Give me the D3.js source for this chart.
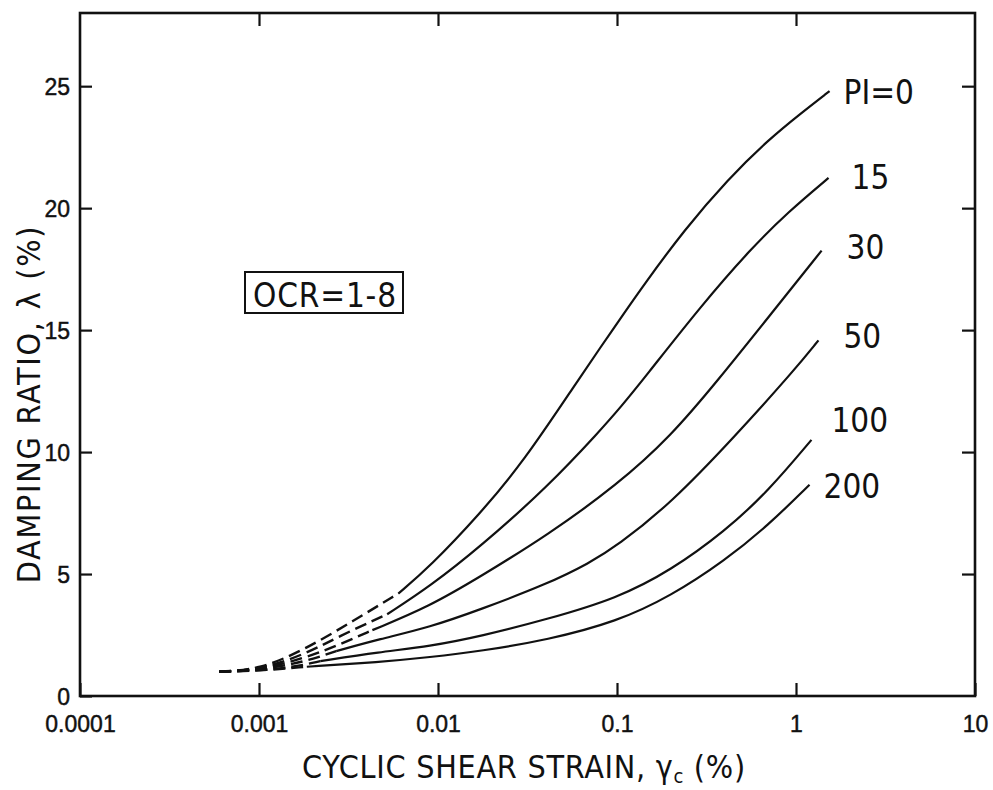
<!DOCTYPE html>
<html>
<head>
<meta charset="utf-8">
<script src="https://cdn.jsdelivr.net/npm/d3@7"></script>
<style>
  html, body { margin: 0; padding: 0; background: #fff; }
  svg { display: block; }
  .tick text { font-family: "Liberation Sans", Arial, sans-serif; font-size: 23px; fill: #111; stroke: #111; stroke-width: 0.45px; }
  .lbl { font-family: "Liberation Sans Narrow", "DejaVu Sans Condensed", sans-serif; fill: #111; }
</style>
</head>
<body>
<svg id="chart" width="993" height="790"></svg>
<script>
// ---------- data ----------
const xTickValues = [0.0001, 0.001, 0.01, 0.1, 1, 10];
const xTickLabels = ["0.0001", "0.001", "0.01", "0.1", "1", "10"];
const yTickValues = [0, 5, 10, 15, 20, 25];
const yTickLabels = ["0", "5", "10", "15", "20", "25"];

const seriesNames = ["PI=0", "15", "30", "50", "100", "200"];

const strainPI0   = [0.0006, 0.001, 0.0018, 0.0034, 0.006, 0.009, 0.0173, 0.03, 0.06, 0.081, 0.105, 0.141, 0.237, 0.418, 0.70, 1.07, 1.54];
const dampingPI0  = [1.0, 1.08, 1.9, 3.1, 4.2, 5.3, 7.5, 9.6, 12.9, 14.3, 15.5, 16.85, 19.1, 21.2, 22.8, 23.9, 24.8];

const strainPI15  = [0.0006, 0.001, 0.0018, 0.0028, 0.0052, 0.009, 0.0173, 0.041, 0.081, 0.105, 0.141, 0.295, 0.562, 0.906, 1.52];
const dampingPI15 = [1.0, 1.07, 1.7, 2.45, 3.35, 4.49, 6.13, 8.58, 10.9, 11.85, 13.0, 16.0, 18.35, 19.85, 21.24];

const strainPI30  = [0.0006, 0.001, 0.0018, 0.0028, 0.0043, 0.009, 0.0173, 0.041, 0.1, 0.2, 0.367, 0.70, 1.39];
const dampingPI30 = [1.0, 1.06, 1.55, 2.1, 2.7, 3.68, 4.9, 6.6, 8.65, 10.65, 12.95, 15.52, 18.26];

const strainPI50  = [0.0006, 0.001, 0.0018, 0.0027, 0.0047, 0.009, 0.0173, 0.041, 0.07, 0.1, 0.2, 0.45, 0.979, 1.335];
const dampingPI50 = [1.0, 1.05, 1.4, 1.84, 2.33, 2.82, 3.55, 4.6, 5.45, 6.15, 7.9, 10.6, 13.36, 14.58];

const strainPI100  = [0.0006, 0.001, 0.0016, 0.0022, 0.0047, 0.009, 0.0173, 0.041, 0.1, 0.2, 0.4, 0.7, 1.22];
const dampingPI100 = [1.0, 1.04, 1.2, 1.43, 1.8, 2.04, 2.45, 3.15, 4.0, 5.15, 6.75, 8.4, 10.5];

const strainPI200  = [0.0006, 0.001, 0.00185, 0.0047, 0.009, 0.0173, 0.041, 0.1, 0.2, 0.4, 0.7, 1.19];
const dampingPI200 = [1.0, 1.03, 1.2, 1.39, 1.59, 1.84, 2.3, 3.05, 4.1, 5.55, 7.0, 8.66];

// strain at which each curve changes from dashed to solid
const solidFrom = [0.006, 0.0052, 0.0043, 0.0027, 0.0022, 0.00185];

// ---------- layout ----------
const L = 80, R = 975, T = 13, B = 696;
const labelDx = [14, 23, 25, 25, 20, 14];
const labelDy = [13, 11, 8, 8, -8, 13];

const svg = d3.select("#chart");
const x = d3.scaleLog().domain([0.0001, 10]).range([L, R]);
const y = d3.scaleLinear().domain([0, 28]).range([B, T]);

const strains = [strainPI0, strainPI15, strainPI30, strainPI50, strainPI100, strainPI200];
const dampings = [dampingPI0, dampingPI15, dampingPI30, dampingPI50, dampingPI100, dampingPI200];
const series = seriesNames.map((name, i) => ({
  name,
  pts: strains[i].map((s, j) => ({ s, d: dampings[i][j] })),
  solidFrom: solidFrom[i]
}));

// axes (inward ticks)
const fmtX = d => xTickLabels[xTickValues.indexOf(d)];
const fmtY = d => yTickLabels[yTickValues.indexOf(d)];

const gB = svg.append("g").attr("transform", `translate(0,${B})`)
  .call(d3.axisBottom(x).tickValues(xTickValues).tickFormat(fmtX).tickSizeInner(-13).tickSizeOuter(0).tickPadding(20));
const gT = svg.append("g").attr("transform", `translate(0,${T})`)
  .call(d3.axisTop(x).tickValues(xTickValues.slice(1, -1)).tickFormat("").tickSizeInner(-13).tickSizeOuter(0));
const gL = svg.append("g").attr("transform", `translate(${L},0)`)
  .call(d3.axisLeft(y).tickValues(yTickValues).tickFormat(fmtY).tickSizeInner(-12).tickSizeOuter(0).tickPadding(10));
const gR = svg.append("g").attr("transform", `translate(${R},0)`)
  .call(d3.axisRight(y).tickValues(yTickValues.slice(1)).tickFormat("").tickSizeInner(-13).tickSizeOuter(0));

[gB, gT, gL, gR].forEach(g => {
  g.select(".domain").remove();
  g.selectAll(".tick line").attr("stroke", "#111").attr("stroke-width", 2.2);
});
gL.selectAll(".tick text").attr("dy", "0.36em");

// frame
svg.append("rect").attr("x", L).attr("y", T).attr("width", R - L).attr("height", B - T)
  .attr("fill", "none").attr("stroke", "#111").attr("stroke-width", 2.6);

// curves
const line = d3.line().x(p => x(p.s)).y(p => y(p.d)).curve(d3.curveBasis);
const gC = svg.append("g");
series.forEach(se => {
  const dashed = se.pts.filter(p => p.s <= se.solidFrom);
  const solid = se.pts.filter(p => p.s >= se.solidFrom);
  gC.append("path").attr("d", line(dashed)).attr("fill", "none").attr("stroke", "#111")
    .attr("stroke-width", 2.4).attr("stroke-dasharray", "12,6");
  gC.append("path").attr("d", line(solid)).attr("fill", "none").attr("stroke", "#111")
    .attr("stroke-width", 2.2);
});

// curve labels
series.forEach((se, i) => {
  const last = se.pts[se.pts.length - 1];
  svg.append("text").attr("class", "lbl")
    .attr("x", x(last.s) + labelDx[i]).attr("y", y(last.d) + labelDy[i])
    .attr("font-size", 33)
    .text(se.name);
});

// fit a text to a target width with letter spacing
function fitWidth(sel, target) {
  const n = sel.text().length;
  const w = sel.node().getComputedTextLength();
  sel.attr("letter-spacing", ((target - w) / Math.max(1, n - 1)).toFixed(2));
}

// OCR box
svg.append("rect").attr("x", 245).attr("y", 272).attr("width", 158).attr("height", 41)
  .attr("fill", "none").attr("stroke", "#111").attr("stroke-width", 2);
const ocr = svg.append("text").attr("class", "lbl").attr("x", 253).attr("y", 307)
  .attr("font-size", 33).text("OCR=1-8");
fitWidth(ocr, 143);

// axis titles
const xt = svg.append("text").attr("class", "lbl").attr("x", 302).attr("y", 778)
  .attr("font-size", 32);
xt.append("tspan").text("CYCLIC SHEAR STRAIN, γ");
xt.append("tspan").attr("font-size", 20).attr("dy", 5).text("c");
xt.append("tspan").attr("dy", -5).text(" (%)");
fitWidth(xt, 443);

const yt = svg.append("text").attr("class", "lbl")
  .attr("transform", "translate(40,404) rotate(-90)")
  .attr("text-anchor", "middle").attr("font-size", 32)
  .text("DAMPING RATIO, λ (%)");
fitWidth(yt, 357);
</script>
</body>
</html>
